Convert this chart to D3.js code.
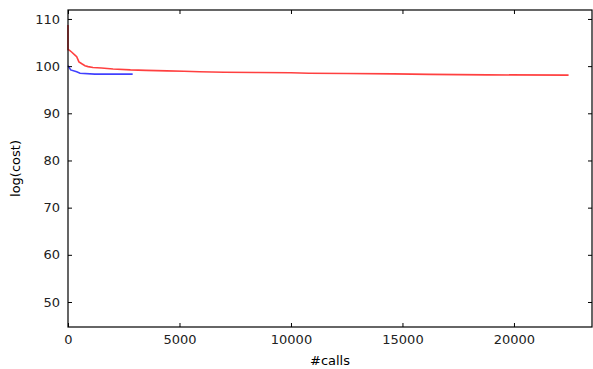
<!DOCTYPE html>
<html>
<head>
<meta charset="utf-8">
<script src="https://cdn.jsdelivr.net/npm/d3@7"></script>
<style>
  body { margin: 0; background: #fff; }
  text { font-family: "DejaVu Sans", sans-serif; }
</style>
</head>
<body>
<div id="chart"></div>
<script>
// best-so-far cost per number of calls
var redCalls = [0, 0, 60, 160, 300, 390, 490, 620, 760, 900, 1120, 1500, 2020, 2800, 3500, 4440, 5200, 5900, 7000, 8500, 10000, 10800, 12500, 14600, 16200, 18800, 22450];
var redCost  = [108.7, 103.5, 103.4, 103.0, 102.4, 102.0, 100.9, 100.5, 100.1, 99.9, 99.7, 99.6, 99.4, 99.2, 99.1, 99.0, 98.9, 98.8, 98.7, 98.65, 98.6, 98.5, 98.45, 98.35, 98.25, 98.15, 98.1];
var blueCalls = [0, 120, 390, 540, 1200, 2900];
var blueCost  = [100.1, 99.2, 98.8, 98.5, 98.3, 98.3];
var xTicks = [0, 5000, 10000, 15000, 20000];
var yTicks = [50, 60, 70, 80, 90, 100, 110];

var margin = {top: 10, right: 1, bottom: 42, left: 68},
    width = 593 - margin.left - margin.right,
    height = 369 - margin.top - margin.bottom;

var x = d3.scaleLinear().domain([0, 23500]).range([0, width]);
var y = d3.scaleLinear().domain([44.7, 111.9]).range([height, 0]);

var svg = d3.select("#chart").append("svg")
    .attr("width", 593)
    .attr("height", 369)
  .append("g")
    .attr("transform", "translate(" + margin.left + "," + margin.top + ")");

var redData = redCalls.map(function(c, i) { return {c: c, v: redCost[i]}; });
var blueData = blueCalls.map(function(c, i) { return {c: c, v: blueCost[i]}; });

var line = d3.line()
    .x(function(d) { return x(d.c); })
    .y(function(d) { return y(d.v); });

svg.append("path")
    .datum(redData)
    .attr("fill", "none")
    .attr("stroke", "#ff0000")
    .attr("stroke-opacity", 0.75)
    .attr("stroke-width", 1.6)
    .attr("d", line);

svg.append("path")
    .datum(blueData)
    .attr("fill", "none")
    .attr("stroke", "#0000ff")
    .attr("stroke-opacity", 0.75)
    .attr("stroke-width", 1.6)
    .attr("d", line);

// axes, ticks pointing inward on all sides
svg.append("g")
    .attr("transform", "translate(0," + height + ")")
    .call(d3.axisBottom(x).tickValues(xTicks).tickSizeInner(-4).tickSizeOuter(0).tickPadding(8).tickFormat(d3.format("d")));
svg.append("g")
    .call(d3.axisTop(x).tickValues(xTicks).tickSizeInner(-4).tickSizeOuter(0).tickFormat(""));
svg.append("g")
    .call(d3.axisLeft(y).tickValues(yTicks).tickSizeInner(-4).tickSizeOuter(0).tickPadding(8));
svg.append("g")
    .attr("transform", "translate(" + width + ",0)")
    .call(d3.axisRight(y).tickValues(yTicks).tickSizeInner(-4).tickSizeOuter(0).tickFormat(""));

svg.selectAll(".domain").remove();
svg.selectAll(".tick line").attr("stroke", "#000");
svg.selectAll(".tick text").attr("font-size", 13).attr("fill", "#222");

svg.append("rect")
    .attr("width", width)
    .attr("height", height)
    .attr("fill", "none")
    .attr("stroke", "#000")
    .attr("stroke-width", 1.2);

// axis labels
svg.append("text")
    .attr("x", width / 2)
    .attr("y", height + 38)
    .attr("text-anchor", "middle")
    .attr("font-size", 13)
    .text("#calls");

svg.append("text")
    .attr("transform", "rotate(-90)")
    .attr("x", -height / 2)
    .attr("y", -48)
    .attr("text-anchor", "middle")
    .attr("font-size", 13)
    .text("log(cost)");
</script>
</body>
</html>
